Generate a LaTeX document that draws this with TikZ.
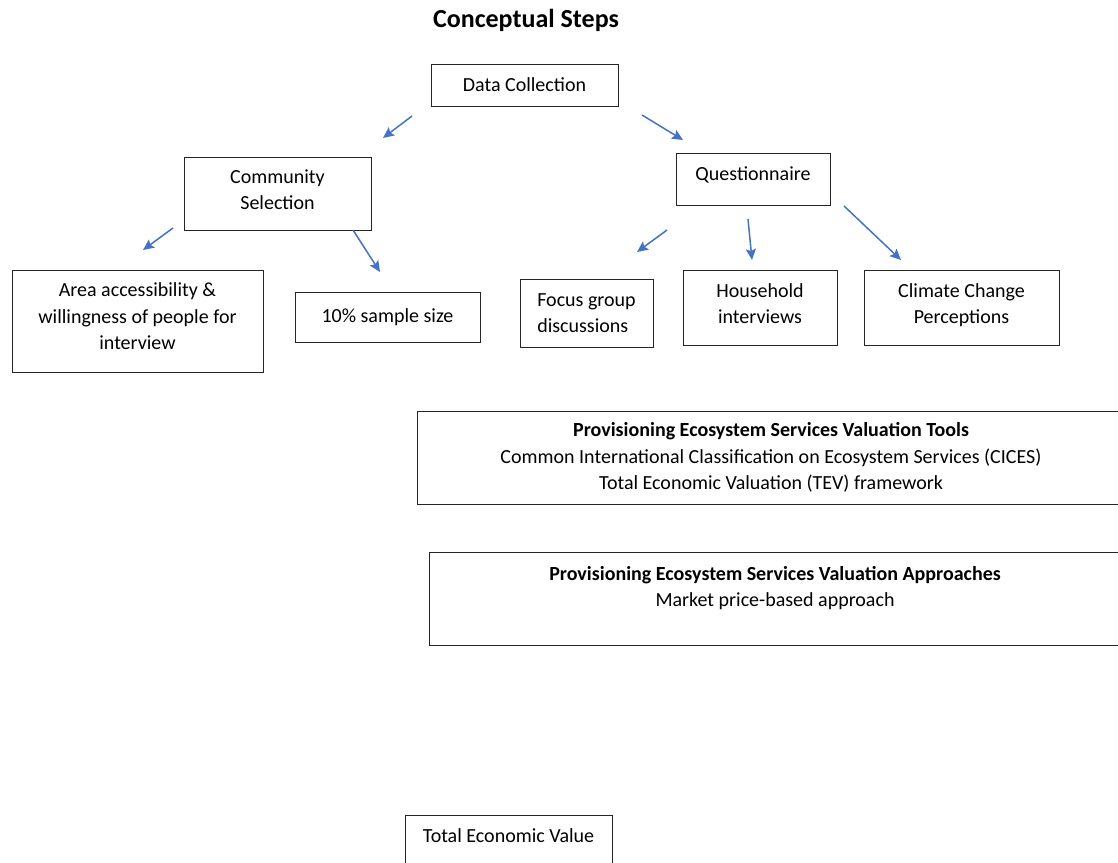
\documentclass[tikz,border=0pt]{standalone}
\usepackage{fontspec}
\setmainfont{Carlito}
\usetikzlibrary{arrows.meta,positioning}
\definecolor{arrowblue}{HTML}{4472C4}

\begin{document}
\begin{tikzpicture}[x=1pt,y=-1pt,->,>={Stealth[length=11pt,width=10pt,inset=2pt]},
                    font=\fontsize{20}{26.5}\selectfont,
                    box/.style={rectangle,draw=black!85,line width=0.85pt,
                                align=center,inner sep=0pt},
                    flow/.style={draw=arrowblue,line width=1.5pt}]

  \useasboundingbox (0,0) rectangle (1118,862);
  \clip (0,0) rectangle (1118,862);

  \node (title) at (526,20) {\fontsize{26}{30}\selectfont\bfseries Conceptual Steps};

  \node[box,minimum width=187,minimum height=42]  (0) at (524.5,85)  {Data Collection};
  \node[box,minimum width=187,minimum height=73,text depth=8] (1) at (277.5,193.5) {Community\\Selection};
  \node[box,minimum width=154,minimum height=52,text depth=11] (2) at (753,179) {Questionnaire};
  \node[box,minimum width=251,minimum height=102,text depth=9] (3) at (137.5,321) {Area accessibility \&\\willingness of people for\\interview};
  \node[box,minimum width=185,minimum height=50]  (4) at (387.5,317) {10\% sample size};
  \node[box,minimum width=133,minimum height=68,align=left] (5) at (586.5,313) {Focus group\\discussions};
  \node[box,minimum width=154,minimum height=75,text depth=8] (6) at (760,307.5) {Household\\interviews};
  \node[box,minimum width=195,minimum height=75,text depth=8] (7) at (961.5,307.5) {Climate Change\\Perceptions};
  \node[box,minimum width=708,minimum height=93]  (8) at (771,457.5)
    {\textbf{Provisioning Ecosystem Services Valuation Tools}\\
     Common International Classification on Ecosystem Services (CICES)\\
     Total Economic Valuation (TEV) framework};
  \node[box,minimum width=692,minimum height=93,text depth=24] (9) at (775,598.5)
    {\textbf{Provisioning Ecosystem Services Valuation Approaches}\\
     Market price-based approach};
  \node[box,minimum width=207,minimum height=60,text depth=18] (10) at (508.5,845) {Total Economic Value};

  % arrow ends
  \coordinate (0a) at (412,116);  \coordinate (1a) at (383,138);
  \coordinate (0b) at (642,115);  \coordinate (2a) at (683,140);
  \coordinate (1b) at (173,228);  \coordinate (3a) at (143,250);
  \coordinate (1c) at (353,230);  \coordinate (4a) at (380,272);
  \coordinate (2b) at (667,230);  \coordinate (5a) at (637,252);
  \coordinate (2c) at (748,219);  \coordinate (6a) at (752,260);
  \coordinate (2d) at (844,206);  \coordinate (7a) at (901,260);

  \path (0a) edge[flow] (1a)
        (0b) edge[flow] (2a)
        (1b) edge[flow] (3a)
        (1c) edge[flow] (4a)
        (2b) edge[flow] (5a)
        (2c) edge[flow] (6a)
        (2d) edge[flow] (7a);
\end{tikzpicture}
\end{document}
